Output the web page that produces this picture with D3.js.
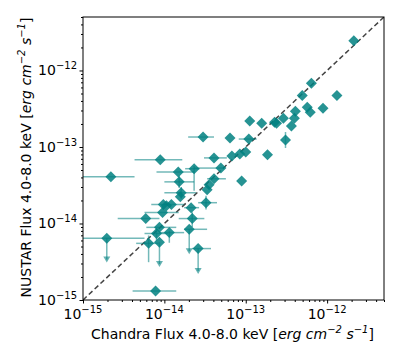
<!DOCTYPE html>
<html>
<head>
<meta charset="utf-8">
<script src="https://cdn.jsdelivr.net/npm/d3@7"></script>
<style>
  body { margin: 0; background: #fff; }
  svg text { font-family: "DejaVu Sans", sans-serif; fill: #000; }
</style>
</head>
<body>
<div id="chart"></div>
<script>
// Chandra (x) and NuSTAR (y) fluxes, 4.0-8.0 keV, erg cm^-2 s^-1
var chandra = [2.13e-12, 6.4e-13, 4.95e-13, 1.32e-12, 5.7e-13, 8.9e-13, 6.2e-13, 4.07e-13, 3.96e-13, 2.9e-13,
    2.39e-13, 2.26e-13, 1.57e-13, 1.12e-13, 3.64e-13, 3.08e-13, 2.99e-14, 6.4e-14, 1.09e-13, 4.07e-14,
    6.75e-14, 8.45e-14, 1.0e-13, 1.85e-13, 4.95e-14, 4.07e-14, 8.9e-14, 3.54e-14, 3.35e-14, 3.25e-14,
    2.2e-15, 8.9e-15, 1.48e-14, 2.32e-14, 1.52e-14, 1.61e-14, 1.57e-14, 1.22e-14, 9.7e-15, 9.5e-15,
    5.9e-15, 8.0e-15, 8.7e-15, 1.15e-14, 6.4e-15, 8.7e-15, 1.96e-15, 7.8e-15, 2.02e-14, 2.6e-14,
    2.2e-14, 2.13e-14, 1.06e-14];
var nustar = [2.45e-12, 6.8e-13, 4.7e-13, 4.7e-13, 3.3e-13, 3.2e-13, 2.85e-13, 2.94e-13, 2.38e-13, 2.38e-13,
    2.05e-13, 2.11e-13, 2.05e-13, 2.18e-13, 1.88e-13, 1.23e-13, 1.35e-13, 1.31e-13, 1.27e-13, 7.2e-14,
    7.6e-14, 8.1e-14, 8.6e-14, 7.9e-14, 5.3e-14, 3.84e-14, 3.6e-14, 3.2e-14, 2.77e-14, 1.87e-14,
    4.07e-14, 6.8e-14, 4.7e-14, 5.2e-14, 3.5e-14, 2.53e-14, 2.24e-14, 1.77e-14, 1.77e-14, 1.39e-14,
    1.16e-14, 7.4e-15, 8.9e-15, 7.6e-15, 5.5e-15, 5.7e-15, 6.4e-15, 1.31e-15, 8.4e-15, 4.7e-15,
    1.16e-14, 1.61e-14, 1.71e-14];
// horizontal error bar ends (null = none)
var chandraLo = [null, null, null, null, null, null, null, null, null, null,
    null, null, null, null, null, null, 1.96e-14, null, 8.2e-14, 3.07e-14,
    null, null, null, null, 2.32e-14, 3.35e-14, null, null, null, 2.6e-14,
    8e-16, 4.3e-15, 8.0e-15, 1.8e-14, 1.0e-14, 1.0e-14, null, null, 6.9e-15, 5.7e-15,
    2.67e-15, 5.7e-15, 6.0e-15, 8.7e-15, 4.5e-15, null, 8e-16, 4.07e-15, 1.75e-14, 2.19e-14,
    1.5e-14, 1.75e-14, null];
var chandraHi = [null, null, null, null, null, null, null, null, null, null,
    null, null, null, null, null, null, 4.07e-14, null, 1.36e-13, 5.86e-14,
    null, null, null, null, 5.4e-14, 5.7e-14, null, null, null, 4.43e-14,
    4.3e-15, 1.66e-14, 2.32e-14, 2.7e-14, 2.32e-14, 2.45e-14, null, null, 1.75e-14, 1.5e-14,
    8.7e-15, 1.1e-14, 1.4e-14, 1.75e-14, 8.5e-15, null, 5.7e-15, 1.4e-14, 3.35e-14, 3.74e-14,
    3.1e-14, 2.67e-14, null];
// vertical error bar ends (for upper limits nustarLo is the arrow tip)
var nustarLo = [null, null, null, null, null, null, null, null, null, null,
    null, null, null, null, null, 9.7e-14, null, null, null, null,
    null, null, null, null, null, null, null, null, null, 1.52e-14,
    null, null, null, 2.68e-14, 2.9e-14, 2.1e-14, null, null, null, null,
    null, 6.0e-15, null, 5.6e-15, 3.12e-15, 2.7e-15, 3.1e-15, null, 3.96e-15, 2.18e-15,
    9.0e-15, null, null];
var nustarHi = [null, null, null, null, null, null, null, null, null, null,
    null, null, null, null, null, 1.57e-13, null, null, null, null,
    null, null, null, null, null, null, null, null, null, 2.31e-14,
    null, null, null, 5.66e-14, 4.2e-14, 3.0e-14, null, null, null, null,
    null, 8.6e-15, null, 8.0e-15, 6.98e-15, null, null, null, null, null,
    1.4e-14, null, null];
var upperLimit = [0, 0, 0, 0, 0, 0, 0, 0, 0, 0, 0, 0, 0, 0, 0, 0, 0, 0, 0, 0,
    0, 0, 0, 0, 0, 0, 0, 0, 0, 0, 0, 0, 0, 0, 0, 0, 0, 0, 0, 0,
    0, 0, 0, 0, 0, 1, 1, 0, 1, 1, 0, 0, 0];
var decadeTicks = [1e-15, 1e-14, 1e-13, 1e-12];
var tickExponents = ["−15", "−14", "−13", "−12"];
var xTitle = "Chandra Flux 4.0-8.0 keV [";
var yTitle = "NUSTAR Flux 4.0-8.0 keV [";

var W = 399, H = 363;
var margin = { top: 17, right: 15, bottom: 63, left: 83 },
    width = W - margin.left - margin.right,
    height = H - margin.top - margin.bottom;

var svg = d3.select("#chart")
    .append("svg")
    .attr("width", W)
    .attr("height", H);

var g = svg.append("g")
    .attr("transform", "translate(" + margin.left + "," + margin.top + ")");

var x = d3.scaleLog().domain([1e-15, 5e-12]).range([0, width]);
var y = d3.scaleLog().domain([1e-15, 5e-12]).range([height, 0]);

svg.append("defs").append("clipPath").attr("id", "clip")
    .append("rect").attr("width", width).attr("height", height);

var plot = g.append("g").attr("clip-path", "url(#clip)");

var teal = "#008080";
var idx = d3.range(chandra.length);

// 1:1 line
plot.append("line")
    .attr("x1", x(1e-15)).attr("y1", y(1e-15))
    .attr("x2", x(5e-12)).attr("y2", y(5e-12))
    .attr("stroke", "#444")
    .attr("stroke-width", 1.5)
    .attr("stroke-dasharray", "5,3");

// error bars
var bars = plot.append("g")
    .attr("stroke", teal)
    .attr("stroke-opacity", 0.55)
    .attr("stroke-width", 1.5);

bars.selectAll(".xerr")
    .data(idx.filter(function(i) { return chandraLo[i] != null; }))
    .enter().append("line")
    .attr("x1", function(i) { return x(chandraLo[i]); })
    .attr("x2", function(i) { return x(chandraHi[i]); })
    .attr("y1", function(i) { return y(nustar[i]); })
    .attr("y2", function(i) { return y(nustar[i]); });

bars.selectAll(".yerr")
    .data(idx.filter(function(i) { return nustarLo[i] != null; }))
    .enter().append("line")
    .attr("x1", function(i) { return x(chandra[i]); })
    .attr("x2", function(i) { return x(chandra[i]); })
    .attr("y1", function(i) { return upperLimit[i] ? y(nustar[i]) : y(nustarHi[i]); })
    .attr("y2", function(i) { return upperLimit[i] ? y(nustarLo[i]) - 3 : y(nustarLo[i]); });

// arrow heads for upper limits
plot.append("g").selectAll("path")
    .data(idx.filter(function(i) { return upperLimit[i]; }))
    .enter().append("path")
    .attr("d", function(i) {
        var cx = x(chandra[i]), cy = y(nustarLo[i]);
        return "M" + (cx - 3.5) + "," + (cy - 6) + "L" + (cx + 3.5) + "," + (cy - 6) + "L" + cx + "," + cy + "Z";
    })
    .attr("fill", teal)
    .attr("fill-opacity", 0.6);

// diamonds
plot.append("g").selectAll("path")
    .data(idx)
    .enter().append("path")
    .attr("d", function(i) {
        var cx = x(chandra[i]), cy = y(nustar[i]), r = 5.5;
        return "M" + cx + "," + (cy - r) + "L" + (cx + r) + "," + cy + "L" + cx + "," + (cy + r) + "L" + (cx - r) + "," + cy + "Z";
    })
    .attr("fill", teal)
    .attr("fill-opacity", 0.85);

// axes, log minor ticks at 2..9 x 10^k
var minorTicks = [];
decadeTicks.forEach(function(d) {
    for (var k = 2; k <= 9; k++) {
        if (d * k <= 5e-12) minorTicks.push(d * k);
    }
});

function tickLabel(sel, i) {
    sel.append("tspan").text("10");
    sel.append("tspan").attr("dy", -6).attr("font-size", 10).text(tickExponents[i]);
}

var xAxis = g.append("g").attr("transform", "translate(0," + height + ")");
xAxis.call(d3.axisBottom(x).tickValues(decadeTicks).tickSize(3.5).tickFormat(""));
xAxis.append("g").call(d3.axisBottom(x).tickValues(minorTicks).tickSize(2).tickFormat(""));
xAxis.selectAll("text").remove();
xAxis.selectAll(".domain").remove();
decadeTicks.forEach(function(d, i) {
    xAxis.append("text")
        .attr("x", x(d)).attr("y", 19)
        .attr("text-anchor", "middle")
        .attr("font-size", 14)
        .call(tickLabel, i);
});

var yAxis = g.append("g");
yAxis.call(d3.axisLeft(y).tickValues(decadeTicks).tickSize(3.5).tickFormat(""));
yAxis.append("g").call(d3.axisLeft(y).tickValues(minorTicks).tickSize(2).tickFormat(""));
yAxis.selectAll(".domain").remove();
decadeTicks.forEach(function(d, i) {
    yAxis.append("text")
        .attr("x", -6).attr("y", y(d) + 5)
        .attr("text-anchor", "end")
        .attr("font-size", 14)
        .call(tickLabel, i);
});
g.selectAll(".tick line").attr("stroke", "#000");

// frame
g.append("rect")
    .attr("width", width).attr("height", height)
    .attr("fill", "none").attr("stroke", "#000").attr("stroke-width", 1);

function axisTitle(sel, base) {
    sel.append("tspan").text(base);
    sel.append("tspan").attr("font-style", "italic").text("erg cm");
    sel.append("tspan").attr("font-style", "italic").attr("dy", -6).attr("font-size", 10).text("−2");
    sel.append("tspan").attr("font-style", "italic").attr("dy", 6).text(" s");
    sel.append("tspan").attr("font-style", "italic").attr("dy", -6).attr("font-size", 10).text("−1");
    sel.append("tspan").attr("dy", 6).text("]");
}

svg.append("text")
    .attr("x", margin.left + width / 2 - 1).attr("y", 339)
    .attr("text-anchor", "middle")
    .attr("font-size", 14)
    .call(axisTitle, xTitle);

svg.append("text")
    .attr("transform", "translate(31," + (margin.top + height / 2 - 1) + ") rotate(-90)")
    .attr("text-anchor", "middle")
    .attr("font-size", 14)
    .call(axisTitle, yTitle);
</script>
</body>
</html>
